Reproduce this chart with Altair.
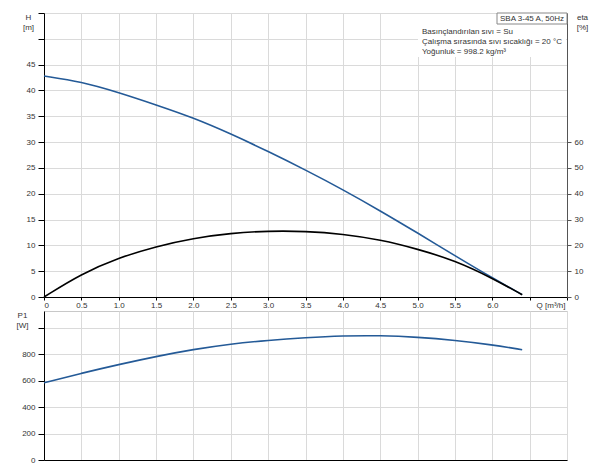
import altair as alt
import pandas as pd

# ---- data ----
q = [0, 0.5, 1.0, 1.5, 2.0, 2.5, 3.0, 3.5, 4.0, 4.5, 5.0, 5.5, 6.0, 6.4]
head = [42.8, 41.7, 39.6, 37.2, 34.7, 31.6, 28.2, 24.6, 20.8, 16.7, 12.4, 8.0, 3.7, 0.45]
eta = [0, 9.0, 15.2, 19.6, 22.8, 24.7, 25.6, 25.5, 24.4, 22.2, 18.6, 14.1, 7.3, 0.9]
p1 = [583, 655, 721, 782, 835, 877, 904, 924, 938, 940, 928, 904, 870, 833]

x_ticks = [i * 0.5 for i in range(15)]
h_ticks = list(range(0, 56, 5))
eta_ticks = list(range(0, 61, 10))
p_ticks = list(range(0, 1001, 200))

info_lines = ["Basınçlandırılan sıvı = Su",
              "Çalışma sırasında sıvı sıcaklığı = 20 °C",
              "Yoğunluk = 998.2 kg/m³"]
pump_label = "SBA 3-45 A, 50Hz"

# ---- styling ----
W, H1, H2 = 523, 284, 149
FONT = "Liberation Sans"
BLUE = "#245a97"
TXT = "#333333"
GRID = "#dadada"
CURVE = "basis"

df = pd.DataFrame({"Q": q, "H": head, "eta": eta, "P1": p1})
one = pd.DataFrame({"a": [0]})
xscale = alt.Scale(domain=[0, 7], nice=False, zero=False)

x_axis_top = alt.Axis(
    values=x_ticks,
    labelExpr="datum.value == 0 ? '0' : (datum.value <= 6 ? format(datum.value, '.1f') : '')",
    labelOverlap=False,
    title="Q [m³/h]", titleX=W - 2, titleY=8, titleAlign="right",
    titleBaseline="middle", titleAngle=0,
    tickSize=3, labelPadding=1, grid=True,
    domainColor="black", tickColor="black",
)

h_line = alt.Chart(df).mark_line(color=BLUE, strokeWidth=1.6, interpolate=CURVE).encode(
    x=alt.X("Q:Q", scale=xscale, axis=x_axis_top),
    y=alt.Y("H:Q", scale=alt.Scale(domain=[0, 55], nice=False),
            axis=alt.Axis(values=h_ticks, labelOverlap=False,
                          labelExpr="datum.value <= 45 ? datum.label : ''",
                          title=["H", "[m]"], titleAngle=0, titleX=-16, titleY=0,
                          titleAlign="center", titleBaseline="top", titleLineHeight=10,
                          tickSize=6, labelPadding=3, grid=True,
                          domainColor="black", tickColor="black")),
)

eta_line = alt.Chart(df).mark_line(color="black", strokeWidth=1.6, interpolate=CURVE).encode(
    x=alt.X("Q:Q", scale=xscale, axis=x_axis_top),
    y=alt.Y("eta:Q", scale=alt.Scale(domain=[0, 110], nice=False),
            axis=alt.Axis(orient="right", values=eta_ticks, grid=False, labelOverlap=False,
                          title=["eta", "[%]"], titleAngle=0, titleX=15, titleY=0,
                          titleAlign="center", titleBaseline="top", titleLineHeight=10,
                          tickSize=4, labelPadding=3,
                          domainColor="#555555", tickColor="#555555")),
)

white_box = alt.Chart(one).mark_rect(fill="white").encode(
    x=alt.value(374), x2=alt.value(W - 1), y=alt.value(1), y2=alt.value(44))

pump_box = alt.Chart(one).mark_rect(fill="white", stroke="#888888", strokeWidth=1).encode(
    x=alt.value(453), x2=alt.value(W), y=alt.value(0), y2=alt.value(11))

pump_text = alt.Chart(one).mark_text(font=FONT, fontSize=8, color=TXT, align="center",
                                     baseline="middle").encode(
    x=alt.value(488), y=alt.value(6), text=alt.value(pump_label))

info_text = alt.Chart(one).mark_text(font=FONT, fontSize=8, color=TXT, align="left",
                                     baseline="top", lineBreak="\n", lineHeight=10).encode(
    x=alt.value(378), y=alt.value(15), text=alt.value("\n".join(info_lines)))

top = alt.layer(h_line, eta_line, white_box, pump_box, pump_text, info_text).resolve_scale(
    y="independent").properties(width=W, height=H1)

p_line = alt.Chart(df).mark_line(color=BLUE, strokeWidth=1.6, interpolate=CURVE).encode(
    x=alt.X("Q:Q", scale=xscale,
            axis=alt.Axis(values=x_ticks, labels=False, ticks=False, title=None,
                          grid=True, domainColor="black")),
    y=alt.Y("P1:Q", scale=alt.Scale(domain=[0, 1125], nice=False),
            axis=alt.Axis(values=p_ticks, labelOverlap=False,
                          labelExpr="datum.value <= 800 ? datum.label : ''",
                          title=["P1", "[W]"], titleAngle=0, titleX=-22, titleY=0,
                          titleAlign="center", titleBaseline="top", titleLineHeight=10,
                          tickSize=6, labelPadding=3, grid=True,
                          domainColor="black", tickColor="black")),
).properties(width=W, height=H2)

chart = alt.vconcat(top, p_line, spacing=14, bounds="flush").properties(
    padding={"left": 7, "top": 0, "right": 0, "bottom": 0}
).configure_view(stroke="#c8c8c8").configure_axis(
    labelFont=FONT, labelFontSize=8, labelColor=TXT, labelOverlap=False,
    titleFont=FONT, titleFontSize=8, titleFontWeight="normal", titleColor=TXT,
    gridColor=GRID, gridWidth=1,
)

chart.save("out.html", embed_options={"renderer": "svg", "actions": False})
